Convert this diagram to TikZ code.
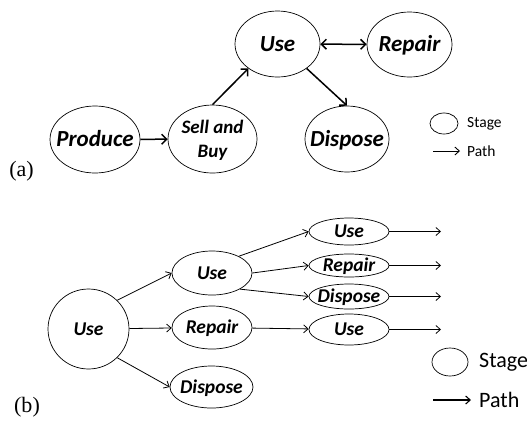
\documentclass[tikz,border=0pt]{standalone}
\usepackage{fontspec}
\newfontfamily\carl{Carlito}
\newfontfamily\tms{Liberation Serif}
\usetikzlibrary{shapes.geometric,arrows.meta}
\begin{document}
\begin{tikzpicture}[x=1pt,y=-1pt,
  st/.style 2 args={ellipse,draw,line width=0.7pt,inner sep=0pt,minimum width=#1,minimum height=#2},
  fa/.style={inner sep=0pt,text height=14.8pt,text depth=0pt,font=\carl\bfseries\itshape\fontsize{23}{27}\selectfont},
  fb/.style={inner sep=0pt,text height=12.6pt,text depth=0pt,font=\carl\bfseries\itshape\fontsize{19.5}{23}\selectfont},
  fs/.style={inner sep=0pt,align=center,yshift=-1.5pt,font=\carl\bfseries\itshape\fontsize{19}{23.5}\selectfont},
  arra/.style={line width=1.5pt,-{Straight Barb[length=5pt,width=10pt]}},
  arrb/.style={line width=0.8pt,-{Straight Barb[length=4.5pt,width=8pt]}},
  arrl/.style={line width=#1,-{Straight Barb[length=4.5pt,width=8pt]}},
  lbl/.style={inner sep=0pt,font=\tms\fontsize{22}{26}\selectfont},
  leg/.style={inner sep=0pt,anchor=west,font=\carl\fontsize{#1}{#1}\selectfont}
]
\useasboundingbox (0,0) rectangle (527,424);
% ---------- (a) ----------
\node[st={90pt}{67pt},label={[fa]center:Produce}] (produce) at (95,139.5) {};
\node[st={89pt}{68pt},label={[fs]center:Sell and\\Buy}] (sell) at (212.5,139) {};
\node[st={85pt}{66pt},label={[fa]center:Use}] (useA) at (277.5,44) {};
\node[st={85pt}{65pt},label={[fa]center:Repair}] (repairA) at (409.5,44.5) {};
\node[st={84pt}{66pt},label={[fa]center:Dispose}] (disposeA) at (347,139) {};
\draw[arra] (produce) -- (sell);
\draw[arra] (sell.north) -- (useA.220);
\draw[arra] (useA.-40) -- (disposeA.north);
\draw[arra,{Straight Barb[length=5pt,width=10pt]}-{Straight Barb[length=5pt,width=10pt]}] (useA) -- (repairA);
% legend (a)
\node[st={28pt}{21pt}] (lega) at (444,123.5) {};
\node[leg=15.5] (legat) at (467,124) {Stage};
\coordinate (pa1) at (433,151);
\coordinate (pa2) at (460,151);
\draw[arrl=0.9pt] (pa1) -- (pa2);
\node[leg=15.5] (legap) at (467,151) {Path};
\node[lbl] (la) at (21.5,171) {(a)};
% ---------- (b) ----------
\node[st={81pt}{80pt},label={[fb]center:Use}] (useB) at (88.5,329) {};
\node[st={80pt}{44pt},label={[fb]center:Use}] (useB1) at (212,273) {};
\node[st={80pt}{43pt},label={[fb]center:Repair}] (repB1) at (212,327.5) {};
\node[st={83pt}{42pt},label={[fb]center:Dispose}] (dispB1) at (211.5,387) {};
\node[st={80pt}{27pt},label={[fb]center:Use}] (useC1) at (349,231.5) {};
\node[st={80pt}{23pt},label={[fb]center:Repair}] (repC1) at (349,265.5) {};
\node[st={80pt}{25pt},label={[fb]center:Dispose}] (dispC1) at (349,296.5) {};
\node[st={80pt}{31pt},label={[fb]center:Use}] (useC2) at (349,329.5) {};
\draw[arrb] (useB.45) -- (useB1.west);
\draw[arrb] (useB) -- (repB1);
\draw[arrb] (useB.-45) -- (dispB1.west);
\draw[arrb] (useB1.32) -- (useC1.west);
\draw[arrb] (useB1.east) -- (repC1.west);
\draw[arrb] (useB1.-30) -- (dispC1.west);
\draw[arrb] (repB1) -- (useC2);
\coordinate (e1) at (441,231.5);
\coordinate (e2) at (441,265.5);
\coordinate (e3) at (441,296.5);
\coordinate (e4) at (441,329.5);
\draw[arrb] (useC1.east) -- (e1);
\draw[arrb] (repC1.east) -- (e2);
\draw[arrb] (dispC1.east) -- (e3);
\draw[arrb] (useC2.east) -- (e4);
% legend (b)
\node[st={36pt}{28pt}] (legb) at (450,362) {};
\node[leg=22] (legbt) at (479,362) {Stage};
\coordinate (pb1) at (433,400);
\coordinate (pb2) at (471,400);
\draw[arrl=1.1pt] (pb1) -- (pb2);
\node[leg=22] (legbp) at (479,400) {Path};
\node[lbl] (lb) at (27,407) {(b)};
\end{tikzpicture}
\end{document}
